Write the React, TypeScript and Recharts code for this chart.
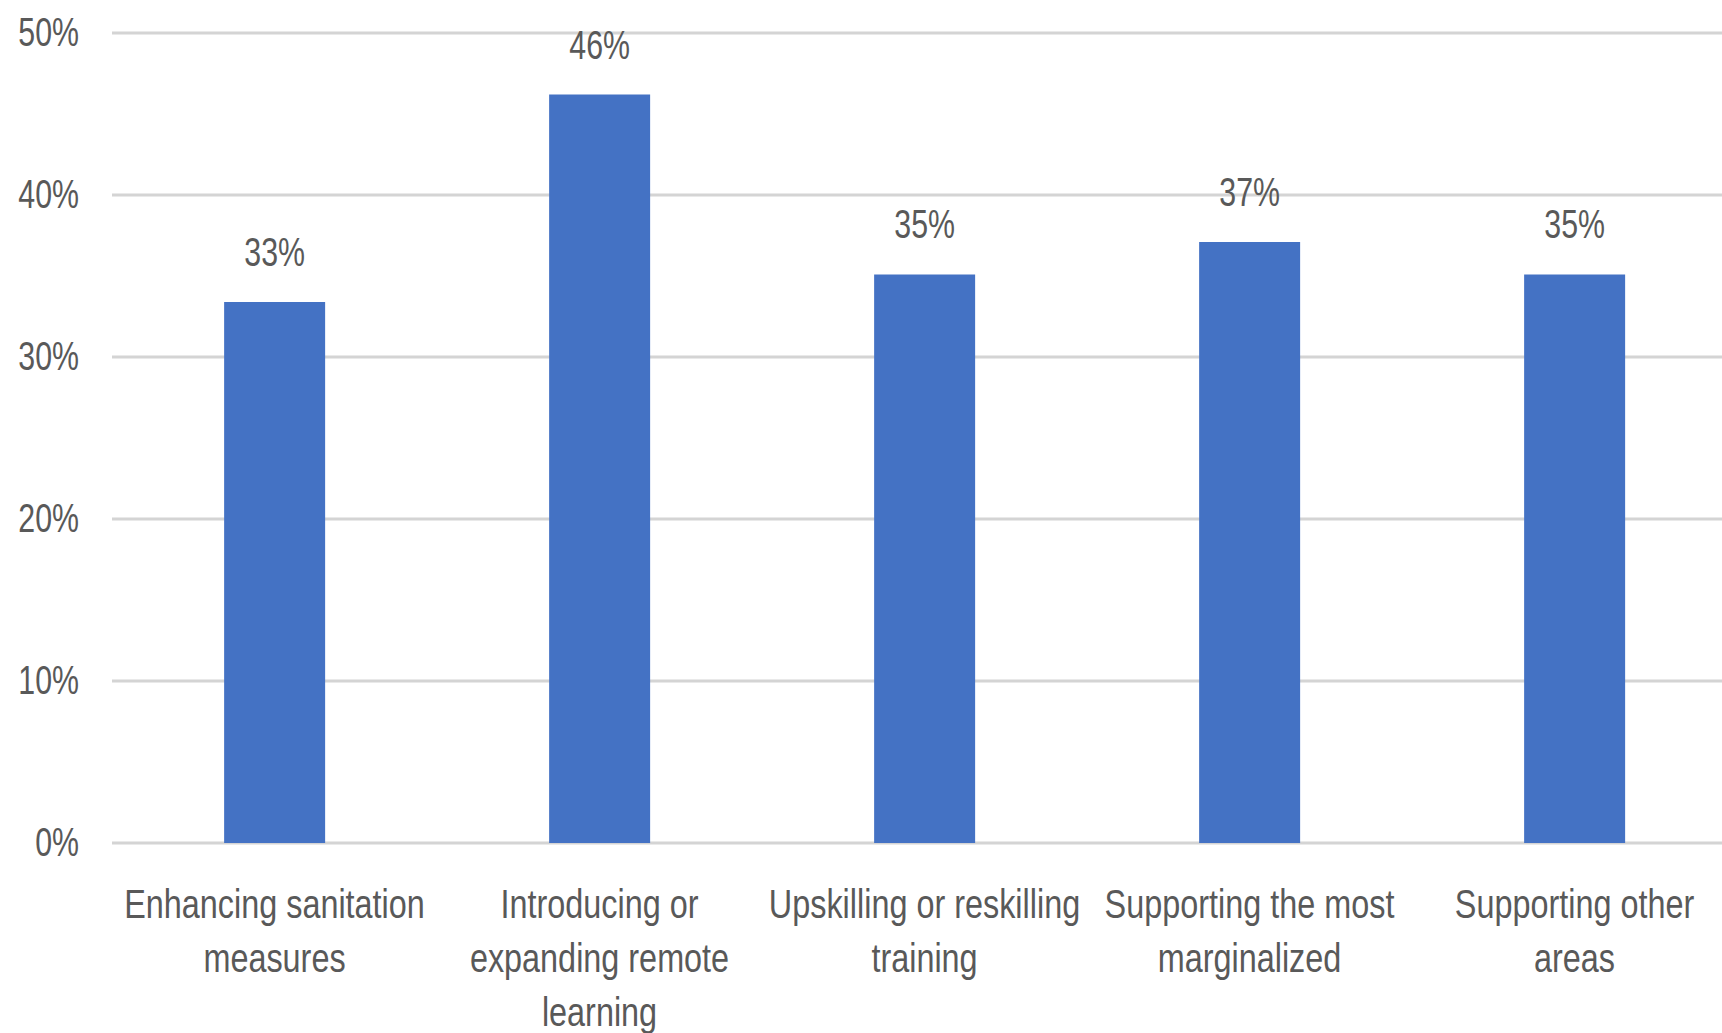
import React from "react";
import { BarChart, Bar, XAxis, YAxis, CartesianGrid, LabelList } from "recharts";

const categories: string[] = [
  "Enhancing sanitation measures",
  "Introducing or expanding remote learning",
  "Upskilling or reskilling training",
  "Supporting the most marginalized",
  "Supporting other areas",
];
const categoryLines: string[][] = [
  ["Enhancing sanitation", "measures"],
  ["Introducing or", "expanding remote", "learning"],
  ["Upskilling or reskilling", "training"],
  ["Supporting the most", "marginalized"],
  ["Supporting other", "areas"],
];
const shares: number[] = [0.334, 0.462, 0.351, 0.371, 0.351];
const yTicks: number[] = [0, 0.1, 0.2, 0.3, 0.4, 0.5];

const data = categories.map((c, i) => ({ category: c, share: shares[i] }));

const FONT = "'Liberation Sans', Arial, sans-serif";
const FS = 41;
const SX = 0.74;
const SX_TICK = 0.79;
const TEXT = "#595959";

const pct = (v: number) => `${Math.round(v * 100)}%`;

const XTick = (props: any) => {
  const { x, y, payload } = props;
  const idx = categories.indexOf(payload.value);
  const lines = categoryLines[idx] || [payload.value];
  return (
    <g transform={`translate(${x},${y}) scale(${SX_TICK},1)`}>
      {lines.map((l, i) => (
        <text key={i} x={0} y={75 + i * 54} textAnchor="middle" fill={TEXT} fontFamily={FONT} fontSize={FS}>
          {l}
        </text>
      ))}
    </g>
  );
};

const YTick = (props: any) => {
  const { x, y, payload } = props;
  return (
    <g transform={`translate(${x},${y}) scale(${SX},1)`}>
      <text x={0} y={13} textAnchor="end" fill={TEXT} fontFamily={FONT} fontSize={FS}>
        {pct(payload.value)}
      </text>
    </g>
  );
};

const ValueLabel = (props: any) => {
  const { x, y, width, value } = props;
  const cx = x + width / 2;
  return (
    <g transform={`translate(${cx},${y - 36}) scale(${SX},1)`}>
      <text x={0} y={0} textAnchor="middle" fill={TEXT} fontFamily={FONT} fontSize={FS}>
        {pct(value)}
      </text>
    </g>
  );
};

export default function App() {
  return (
    <div style={{ position: "absolute", left: 0, top: 0, width: 1722, height: 1033, overflow: "hidden", background: "#fff" }}>
      <BarChart
        width={1740}
        height={1033}
        data={data}
        margin={{ top: 33, right: 3, bottom: 0, left: 0 }}
        barCategoryGap="34.5%"
      >
        <CartesianGrid vertical={false} stroke="#d4d4d4" strokeWidth={3} />
        <XAxis
          dataKey="category"
          height={190}
          axisLine={false}
          tickLine={false}
          tickSize={0}
          tickMargin={0}
          interval={0}
          tick={<XTick />}
        />
        <YAxis
          width={112}
          domain={[0, 0.5]}
          ticks={yTicks}
          axisLine={false}
          tickLine={false}
          tickSize={0}
          tickMargin={33}
          tick={<YTick />}
        />
        <Bar dataKey="share" fill="#4472C4" isAnimationActive={false}>
          <LabelList dataKey="share" content={<ValueLabel />} />
        </Bar>
      </BarChart>
    </div>
  );
}
